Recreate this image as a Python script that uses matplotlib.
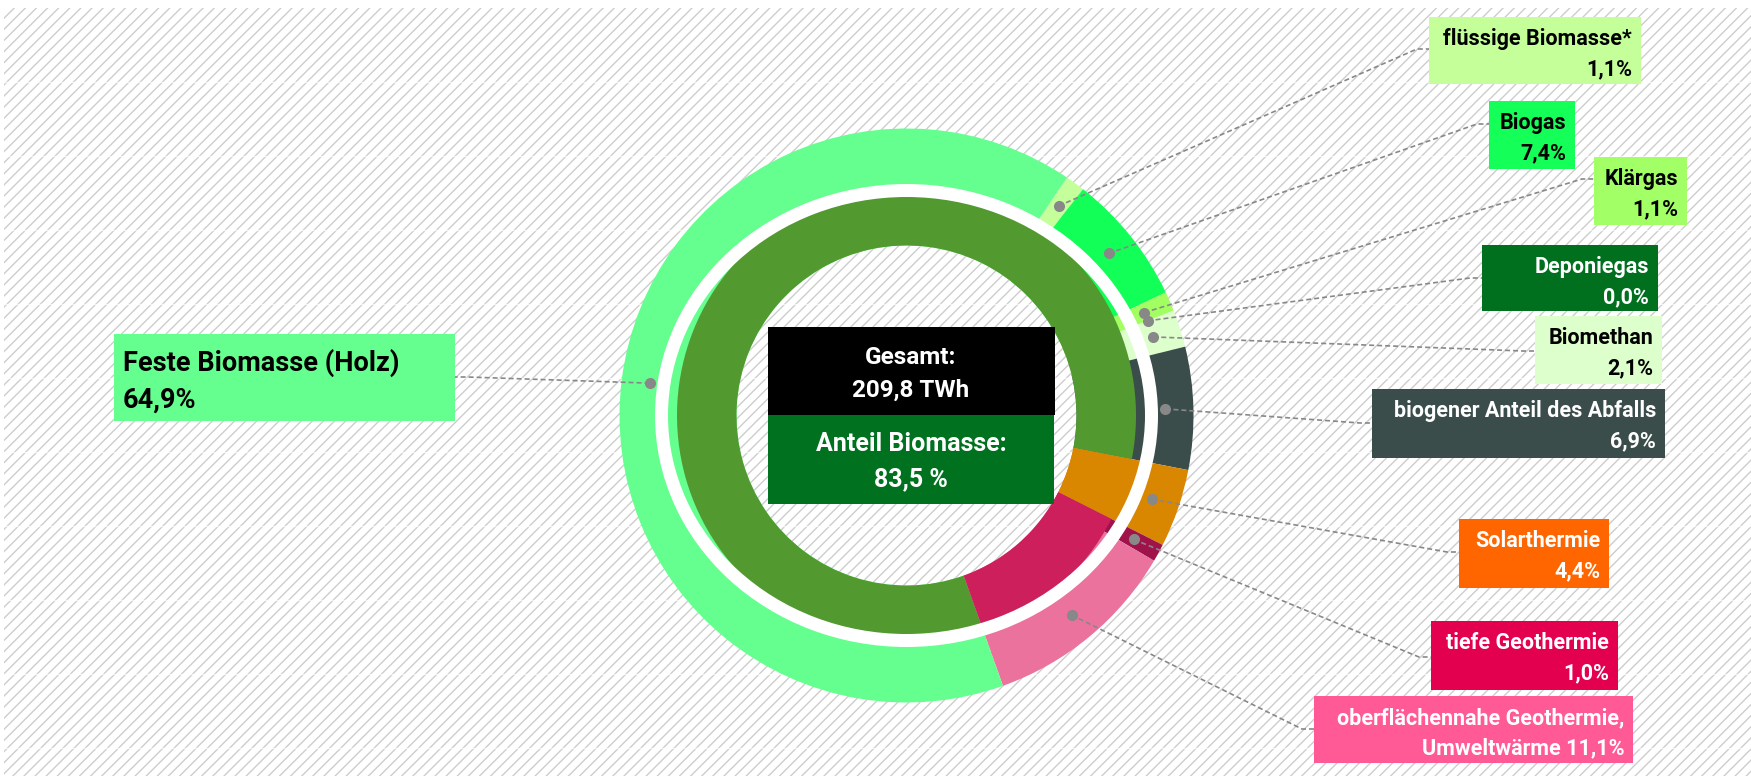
import matplotlib
matplotlib.use('Agg')
import matplotlib.pyplot as plt
from matplotlib.patches import Rectangle, Annulus
import numpy as np

W, H = 1751, 776

# aeusserer Ring: Anteile an der Waermebereitstellung aus erneuerbaren Energien (%)
labels = ['flüssige Biomasse*', 'Biogas', 'Klärgas', 'Deponiegas', 'Biomethan',
          'biogener Anteil des Abfalls', 'Solarthermie', 'tiefe Geothermie',
          'oberflächennahe Geothermie,\nUmweltwärme', 'Feste Biomasse (Holz)']
shares = [1.1, 7.4, 1.1, 0.0, 2.1, 6.9, 4.4, 1.0, 11.1, 64.9]

# innerer Ring
inner_labels = ['Biomasse', 'Solarthermie', 'Geothermie']
inner_shares = [83.5, 4.4, 12.1]

total_twh = 209.8
bio_share = 83.5

# Farben
ring_colors = ['#c4ff9c', '#12ff58', '#a2ff62', '#007022', '#ddffcc',
               '#3a4d4b', '#d98600', '#a0134a', '#ea729c', '#64ff8f']
box_colors = ['#c4ff9a', '#14ff57', '#a3ff66', '#00701f', '#ddffcc',
              '#3a4d4b', '#ff6600', '#e3004f', '#ff5a96', '#64ff8f']
text_colors = ['black', 'black', 'black', 'white', 'black',
               'white', 'white', 'white', 'white', 'black']
inner_colors = ['#529a2f', '#d98600', '#cc1f5c']

# Layout (Pixel, y von oben)
cx, cy = 906.5, 415.5
boxes = [(1429, 17, 1641, 84), (1489, 101, 1575, 169), (1594, 157, 1687, 225),
         (1482, 245, 1658, 311), (1535, 316, 1662, 384), (1372, 389, 1665, 458),
         (1459, 519, 1609, 588), (1431, 621, 1618, 690), (1314, 696, 1633, 763),
         (114, 334, 455, 421)]
anchor_y = [49, 124, 179, 278, 351, 423, 552, 657, 729, 377]
start = 56
# innerer Ring beginnt dort, wo "Feste Biomasse" im aeusseren Ring beginnt
inner_start = start - 3.6 * (100 - shares[-1])


def Y(y):
    return H - y


def fmt(v):
    return f'{v:.1f}'.replace('.', ',')


plt.rcParams['font.family'] = ['Roboto', 'DejaVu Sans']
plt.rcParams['hatch.color'] = '#cdcdcd'
plt.rcParams['hatch.linewidth'] = 1.0

fig = plt.figure(figsize=(W / 100, H / 100), dpi=100)
ax = fig.add_axes([0, 0, 1, 1])

# schraffierter Hintergrund
ax.add_patch(Rectangle((4, 0), W - 4, H - 8, facecolor='white', edgecolor='#cdcdcd',
                       hatch='///', lw=0, zorder=0))
for gy in range(82, H, 74):
    ax.plot([4, W], [Y(gy), Y(gy)], color='white', lw=1, alpha=0.7, zorder=0.5)

ax.pie(shares, colors=ring_colors, radius=287, center=(cx, Y(cy)), startangle=start,
       counterclock=False, wedgeprops=dict(width=117, linewidth=0), frame=False)
ax.pie(inner_shares, colors=inner_colors, radius=229.5, center=(cx, Y(cy)),
       startangle=inner_start, counterclock=False,
       wedgeprops=dict(width=59.5, linewidth=0), frame=False)
ax.add_patch(Annulus((cx, Y(cy)), r=(251.5, 231.5), width=13, facecolor='white',
                     lw=0, zorder=3))

# Beschriftungen mit Hinweislinien
cum = np.cumsum([0] + shares)
for i, lab in enumerate(labels):
    mid = np.deg2rad(start - 3.6 * (cum[i] + shares[i] / 2))
    dx, dy = cx + 259 * np.cos(mid), Y(cy) + 259 * np.sin(mid)
    x0, y0, x1, y1 = boxes[i]
    ay = Y(anchor_y[i])
    if i == len(labels) - 1:
        ax.plot([dx, x1 + 12, x1], [dy, ay, ay], color='#888888', lw=1.2,
                ls=(0, (3, 1.8)), zorder=4)
    else:
        ax.plot([dx, x0 - 12, x0], [dy, ay, ay], color='#888888', lw=1.2,
                ls=(0, (3, 1.8)), zorder=4)
    ax.plot(dx, dy, 'o', color='#888888', ms=8, mec='none', zorder=5)
    ax.add_patch(Rectangle((x0, Y(y1)), x1 - x0, y1 - y0, facecolor=box_colors[i],
                           lw=0, zorder=4))
    lines = lab.split('\n')
    if len(lines) == 1:
        lines.append(fmt(shares[i]) + '%')
    else:
        lines[-1] += ' ' + fmt(shares[i]) + '%'
    if i == len(labels) - 1:
        for k, t in enumerate(lines):
            ax.text(x0 + 9, Y(y0 + 29 + 37 * k), t, ha='left', va='center',
                    fontsize=19.5, fontweight='bold', color=text_colors[i], zorder=6)
    else:
        for k, t in enumerate(lines):
            ax.text(x1 - 9, Y(y0 + 22 + 30 * k), t, ha='right', va='center',
                    fontsize=15.5, fontweight='bold', color=text_colors[i], zorder=6)

# Kasten in der Mitte
ax.add_patch(Rectangle((768, Y(415)), 287, 88, facecolor='black', lw=0, zorder=6))
ax.add_patch(Rectangle((768, Y(504)), 286, 89, facecolor='#00721f', lw=0, zorder=6))
ax.text(911, Y(358), 'Gesamt:', ha='center', va='center', color='white',
        fontsize=17.5, fontweight='bold', zorder=7)
ax.text(911, Y(390), fmt(total_twh) + ' TWh', ha='center', va='center', color='white',
        fontsize=17.5, fontweight='bold', zorder=7)
ax.text(911, Y(444), 'Anteil Biomasse:', ha='center', va='center', color='white',
        fontsize=18, fontweight='bold', zorder=7)
ax.text(911, Y(479), fmt(bio_share) + ' %', ha='center', va='center', color='white',
        fontsize=18, fontweight='bold', zorder=7)

ax.set_xlim(0, W)
ax.set_ylim(0, H)
ax.set_aspect('equal')
ax.axis('off')
fig.savefig('out.png', dpi=100, facecolor='white')
